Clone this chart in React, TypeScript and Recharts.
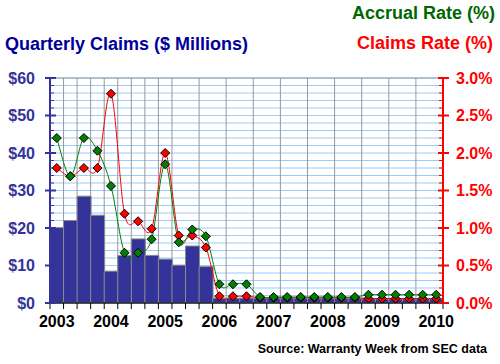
import React from 'react';
import { ComposedChart, Bar, Line, XAxis, YAxis, CartesianGrid } from 'recharts';

const QUARTERS = [
  '2003 Q1', '2003 Q2', '2003 Q3', '2003 Q4',
  '2004 Q1', '2004 Q2', '2004 Q3', '2004 Q4',
  '2005 Q1', '2005 Q2', '2005 Q3', '2005 Q4',
  '2006 Q1', '2006 Q2', '2006 Q3', '2006 Q4',
  '2007 Q1', '2007 Q2', '2007 Q3', '2007 Q4',
  '2008 Q1', '2008 Q2', '2008 Q3', '2008 Q4',
  '2009 Q1', '2009 Q2', '2009 Q3', '2009 Q4',
  '2010 Q1',
];

// quarterly claims, $ millions
const CLAIMS = [
  20.1, 22.0, 28.5, 23.4, 8.5, 12.7, 17.1, 12.7, 11.7, 10.1, 15.2, 9.7,
  1.3, 1.3, 1.3, 1.2, 1.2, 1.2, 1.2, 1.2, 1.2, 1.2, 1.2,
  1.1, 1.1, 1.1, 1.1, 1.1, 1.1,
];

// accrual rate, %
const ACCRUAL_RATE = [
  2.2, 1.69, 2.2, 2.03, 1.56, 0.67, 0.67, 0.85, 1.85, 0.81, 0.98, 0.89,
  0.25, 0.25, 0.25, 0.08, 0.08, 0.08, 0.08, 0.08, 0.08, 0.08, 0.08,
  0.11, 0.11, 0.11, 0.11, 0.11, 0.11,
];

// claims rate, %
const CLAIMS_RATE = [
  1.8, 1.69, 1.8, 1.8, 2.79, 1.19, 1.09, 0.99, 2.0, 0.9, 0.9, 0.74,
  0.09, 0.09, 0.09, 0.07, 0.07, 0.07, 0.07, 0.07, 0.07, 0.07, 0.07,
  0.06, 0.06, 0.06, 0.06, 0.06, 0.06,
];

const LEFT_TICKS = [0, 2, 4, 6, 8, 10, 12, 14, 16, 18, 20, 22, 24, 26, 28, 30,
  32, 34, 36, 38, 40, 42, 44, 46, 48, 50, 52, 54, 56, 58, 60];
const LEFT_MAJOR = [0, 10, 20, 30, 40, 50, 60];
const RIGHT_TICKS = Array.from({ length: 31 }, (_, i) => i / 10);

const data = QUARTERS.map((q, i) => ({
  q,
  idx: i + 0.5,
  claims: CLAIMS[i],
  accrual: ACCRUAL_RATE[i],
  rate: CLAIMS_RATE[i],
}));
const GRID_TICKS = Array.from({ length: QUARTERS.length + 1 }, (_, i) => i);

const W = 500;
const H = 364;
const PLOT_LEFT = 50;
const PLOT_RIGHT = 443;
const PLOT_BOTTOM = 303;
const BAND = (PLOT_RIGHT - PLOT_LEFT) / QUARTERS.length;

const NAVY = '#333399';
const RED = '#ff0000';
const GREEN = '#008000';
const FONT = "Arial, 'Liberation Sans', sans-serif";

// catmull-rom style smoothing (like the original's smoothed lines)
const cardinal = (context: any) => {
  let pts: number[][] = [];
  return {
    areaStart() {},
    areaEnd() {},
    lineStart() { pts = []; },
    point(x: number, y: number) { pts.push([+x, +y]); },
    lineEnd() {
      const n = pts.length;
      if (!n) return;
      context.moveTo(pts[0][0], pts[0][1]);
      for (let i = 0; i < n - 1; i++) {
        const p0 = pts[Math.max(i - 1, 0)];
        const p1 = pts[i];
        const p2 = pts[i + 1];
        const p3 = pts[Math.min(i + 2, n - 1)];
        context.bezierCurveTo(
          p1[0] + (p2[0] - p0[0]) / 6, p1[1] + (p2[1] - p0[1]) / 6,
          p2[0] - (p3[0] - p1[0]) / 6, p2[1] - (p3[1] - p1[1]) / 6,
          p2[0], p2[1],
        );
      }
    },
  };
};

const diamond = (fill: string) => (props: any) => {
  const { cx, cy, index } = props;
  const r = 4.5;
  return (
    <polygon
      key={`${fill}-${index}`}
      points={`${cx},${cy - r} ${cx + r},${cy} ${cx},${cy + r} ${cx - r},${cy}`}
      fill={fill}
      stroke="#000"
      strokeWidth={1}
    />
  );
};

const LeftTick = (props: any) => {
  const { y, payload } = props;
  const major = payload.value % 10 === 0;
  return (
    <g>
      {major ? (
        <>
          <line x1={PLOT_LEFT - 5} x2={PLOT_LEFT + 6} y1={y} y2={y} stroke={NAVY} strokeWidth={2} />
          <text x={PLOT_LEFT - 15} y={y} dy="0.36em" textAnchor="end" fill={NAVY}
            fontSize={16} fontWeight="bold" fontFamily={FONT}>
            ${payload.value}
          </text>
        </>
      ) : (
        <line x1={PLOT_LEFT} x2={PLOT_LEFT + 4} y1={y} y2={y} stroke={NAVY} strokeWidth={1} />
      )}
    </g>
  );
};

const RightTick = (props: any) => {
  const { y, payload } = props;
  const major = Math.round(payload.value * 10) % 5 === 0;
  return (
    <g>
      {major ? (
        <>
          <line x1={PLOT_RIGHT - 5} x2={PLOT_RIGHT + 6} y1={y} y2={y} stroke={RED} strokeWidth={2} />
          <text x={PLOT_RIGHT + 13} y={y} dy="0.36em" textAnchor="start" fill={RED}
            fontSize={16} fontWeight="bold" fontFamily={FONT}>
            {payload.value.toFixed(1)}%
          </text>
        </>
      ) : (
        <line x1={PLOT_RIGHT - 4} x2={PLOT_RIGHT} y1={y} y2={y} stroke={RED} strokeWidth={1} />
      )}
    </g>
  );
};

const BottomTick = (props: any) => {
  const { x, payload, index } = props;
  const v: string = payload.value;
  const last = index === QUARTERS.length - 1;
  return (
    <g>
      <line x1={x - BAND / 2} x2={x - BAND / 2} y1={PLOT_BOTTOM} y2={PLOT_BOTTOM + 6} stroke="#000" />
      {last && <line x1={x + BAND / 2} x2={x + BAND / 2} y1={PLOT_BOTTOM} y2={PLOT_BOTTOM + 6} stroke="#000" />}
      {v.endsWith('Q1') && (
        <text x={x} y={PLOT_BOTTOM + 24} textAnchor="middle" fill="#000"
          fontSize={16} fontWeight="bold" fontFamily={FONT}>
          {v.slice(0, 4)}
        </text>
      )}
    </g>
  );
};

export default function App() {
  return (
    <div style={{ position: 'absolute', left: 0, top: 0, width: W, height: H, background: '#fff' }}>
      <ComposedChart width={W} height={H} data={data} barCategoryGap={0}
        margin={{ top: 78, right: 0, bottom: 21, left: 0 }}>
        <XAxis xAxisId="grid" dataKey="idx" type="number" domain={[0, QUARTERS.length]}
          ticks={GRID_TICKS} hide allowDataOverflow />
        <YAxis yAxisId="major" domain={[0, 60]} ticks={LEFT_MAJOR} hide />
        <CartesianGrid xAxisId="grid" yAxisId="left" vertical={false} stroke="#99ccff" strokeWidth={1} />
        <CartesianGrid xAxisId="grid" yAxisId="major" stroke="#999999" strokeWidth={1} />

        <XAxis xAxisId="cat" dataKey="q" height={40} interval={0} tickLine={false}
          axisLine={{ stroke: '#000' }} tick={<BottomTick />} />
        <YAxis yAxisId="left" orientation="left" width={50} domain={[0, 60]} ticks={LEFT_TICKS}
          interval={0} tickLine={false} axisLine={{ stroke: NAVY, strokeWidth: 2 }} tick={<LeftTick />} />
        <YAxis yAxisId="right" orientation="right" width={57} domain={[0, 3]} ticks={RIGHT_TICKS}
          interval={0} tickLine={false} axisLine={{ stroke: RED, strokeWidth: 2 }} tick={<RightTick />} />

        <Bar xAxisId="cat" yAxisId="left" dataKey="claims" fill={NAVY} stroke="#8c8c8c"
          strokeWidth={1} isAnimationActive={false} />
        <Line xAxisId="cat" yAxisId="right" dataKey="rate" type={cardinal as any} stroke={RED}
          strokeWidth={1} dot={diamond(RED)} activeDot={false} isAnimationActive={false} />
        <Line xAxisId="cat" yAxisId="right" dataKey="accrual" type={cardinal as any} stroke={GREEN}
          strokeWidth={1} dot={diamond(GREEN)} activeDot={false} isAnimationActive={false} />
      </ComposedChart>
      <svg width={W} height={H} style={{ position: 'absolute', left: 0, top: 0, pointerEvents: 'none' }}>
        <text x={495} y={19} textAnchor="end" fill="#006600" fontSize={18} fontWeight="bold" fontFamily={FONT}>
          Accrual Rate (%)
        </text>
        <text x={493} y={49} textAnchor="end" fill={RED} fontSize={18} fontWeight="bold" fontFamily={FONT}>
          Claims Rate (%)
        </text>
        <text x={5} y={50} textAnchor="start" fill="#000099" fontSize={18} fontWeight="bold" fontFamily={FONT}>
          Quarterly Claims ($ Millions)
        </text>
        <text x={487} y={353} textAnchor="end" fill="#000" fontSize={12.5} fontWeight="bold"
          fontFamily={FONT}>
          Source: Warranty Week from SEC data
        </text>
      </svg>
    </div>
  );
}
